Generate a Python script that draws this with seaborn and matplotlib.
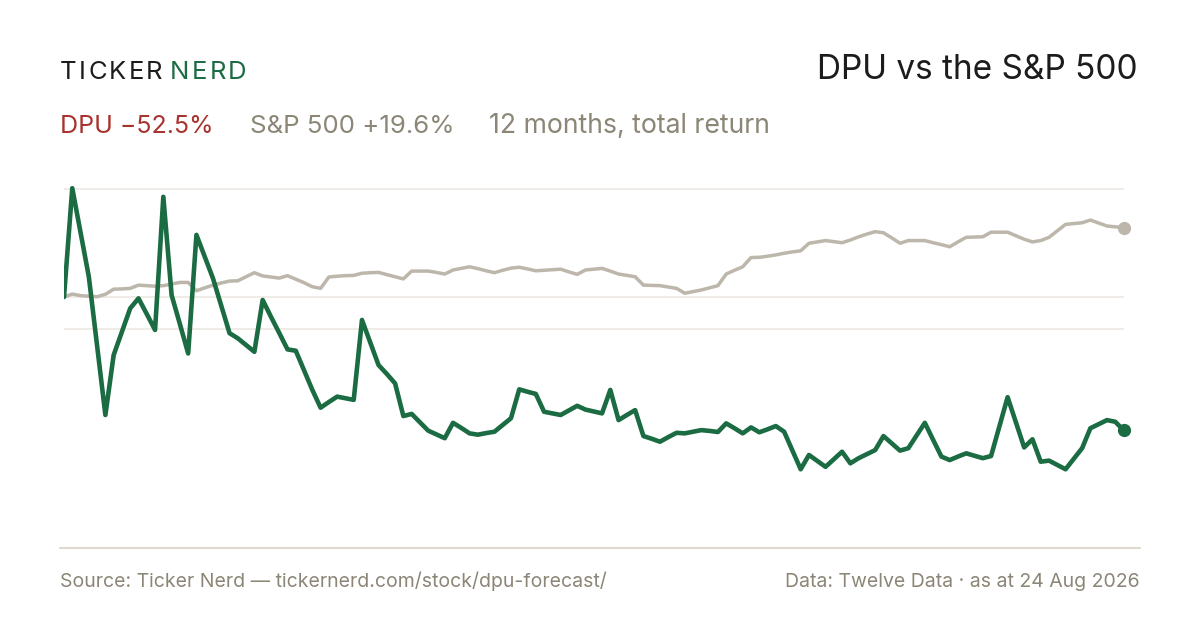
import numpy as np
import pandas as pd
import matplotlib
matplotlib.use("Agg")
import matplotlib.pyplot as plt
from matplotlib.lines import Line2D
import seaborn as sns

# 12 months total return, % (one point every ~3 days)
dpu_return = [
    0.0, 40.3, 23.9, 7.5, -18.1, -43.7, -21.5, -12.8, -4.2, -0.5,
    -6.3, -12.2, 37.1, 0.7, -10.0, -20.9, 23.0, 15.0, 6.9, -3.3,
    -13.4, -15.3, -17.8, -20.3, -1.1, -7.3, -13.3, -19.4, -19.9, -27.1,
    -34.4, -41.0, -38.9, -36.9, -37.5, -38.1, -8.5, -16.9, -25.2, -28.5,
    -32.0, -44.1, -43.3, -46.4, -49.5, -50.9, -52.3, -46.6, -48.5, -50.5,
    -51.0, -50.4, -49.9, -47.4, -44.9, -34.2, -35.1, -35.9, -42.5, -43.1,
    -43.7, -42.0, -40.3, -41.7, -42.4, -43.1, -34.4, -45.6, -43.7, -41.9,
    -51.5, -52.5, -53.6, -51.9, -50.3, -50.5, -49.9, -49.3, -49.6, -50.0,
    -46.8, -48.6, -50.5, -48.3, -50.1, -49.0, -47.8, -49.9, -56.9, -63.8,
    -58.5, -60.7, -62.9, -60.1, -57.3, -61.6, -59.7, -58.2, -56.7, -51.5,
    -54.2, -56.9, -56.0, -51.3, -46.6, -52.9, -59.1, -60.4, -59.1, -57.9,
    -58.8, -59.7, -58.9, -48.0, -37.1, -46.4, -55.7, -52.7, -61.0, -60.6,
    -62.2, -63.8, -59.9, -56.0, -48.6, -47.1, -45.6, -46.2, -49.3,
]
spx_return = [
    0.0, 1.1, 0.5, 0.3, 0.1, 1.0, 2.9, 3.0, 3.2, 4.4,
    4.2, 4.0, 4.2, 4.8, 5.4, 5.4, 2.3, 3.4, 4.4, 5.2,
    5.9, 6.0, 7.5, 9.0, 7.8, 7.4, 7.0, 7.9, 6.6, 5.3,
    3.8, 3.2, 7.4, 7.7, 7.9, 8.0, 8.8, 9.0, 9.1, 8.3,
    7.5, 6.7, 9.6, 9.6, 9.6, 9.1, 8.5, 10.0, 10.6, 11.2,
    10.5, 9.7, 9.0, 9.9, 10.7, 11.0, 10.4, 9.7, 9.9, 10.1,
    10.3, 9.3, 8.4, 10.0, 10.3, 10.6, 9.6, 8.5, 8.0, 7.5,
    4.4, 4.3, 4.2, 3.7, 3.2, 1.4, 2.0, 2.6, 3.4, 4.2,
    8.5, 9.9, 11.2, 14.6, 14.7, 15.1, 15.6, 16.2, 16.7, 17.1,
    19.9, 20.4, 20.9, 20.5, 20.1, 21.1, 22.3, 23.3, 24.2, 23.8,
    21.9, 19.9, 20.9, 20.9, 20.9, 20.1, 19.4, 18.6, 20.4, 22.1,
    22.2, 22.3, 24.0, 24.0, 24.0, 22.7, 21.4, 20.4, 20.9, 22.1,
    24.5, 26.9, 27.2, 27.5, 28.5, 27.4, 26.3, 26.0, 25.7,
]
grid_levels = [40, 0, -12]

logo_left, logo_right = "TICKER", "NERD"
title = "DPU vs the S&P 500"
sub_dpu = "DPU \u221252.5%"
sub_spx = "S&P 500 +19.6%"
sub_note = "12 months, total return"
source_text = "Source: Ticker Nerd \u2014 tickernerd.com/stock/dpu-forecast/"
data_text = "Data: Twelve Data \u00b7 as at 24 Aug 2026"

GREEN = "#1b6b43"
SPX_GREY = "#bdb6ab"
RED = "#a8322d"
MUTED = "#8c8677"
INK = "#1c1c1c"
GRID = "#ece9e4"
RULE = "#dedad0"

sns.set_theme(style="white")
plt.rcParams["font.family"] = ["Inter", "DejaVu Sans"]

W, H = 1200, 630
fig = plt.figure(figsize=(12, 6.3), dpi=100)
fig.patch.set_facecolor("white")

def fx(px):
    return px / W

def fy(py):
    return 1 - py / H

# axes placed so that the zero line sits at y=297 px
ax_top, ax_bot = 180, 500
ax = fig.add_axes([fx(64), fy(ax_bot), fx(1123.5) - fx(64), (ax_bot - ax_top) / H])
ax.set_facecolor("none")

df = pd.DataFrame({
    "day": np.arange(len(dpu_return)),
    "DPU": dpu_return,
    "S&P 500": spx_return,
})
long = df.melt(id_vars="day", var_name="series", value_name="ret")

for lvl in grid_levels:
    ax.axhline(lvl, color=GRID, lw=1.2, zorder=0)

sns.lineplot(data=long[long.series == "S&P 500"], x="day", y="ret", ax=ax,
             color=SPX_GREY, lw=2.5, legend=False, zorder=2)
sns.lineplot(data=long[long.series == "DPU"], x="day", y="ret", ax=ax,
             color=GREEN, lw=3.3, legend=False, zorder=3)
ax.plot(df["day"].iloc[-1], df["S&P 500"].iloc[-1], "o", color=SPX_GREY, ms=8.5,
        clip_on=False, zorder=4)
ax.plot(df["day"].iloc[-1], df["DPU"].iloc[-1], "o", color=GREEN, ms=8.5,
        clip_on=False, zorder=4)

scale = 2.7  # px per % point
ax.set_xlim(0, len(dpu_return) - 1)
ax.set_ylim((297 - ax_bot) / scale, (297 - ax_top) / scale)
ax.set_axis_off()

# header
renderer = fig.canvas.get_renderer()

def tracked(x_px, y_px, s, color, size, track):
    x = x_px
    for ch in s:
        t = fig.text(fx(x), fy(y_px), ch, color=color, fontsize=size, va="baseline", ha="left")
        bb = t.get_window_extent(renderer=renderer)
        x += bb.width + track
    return x

end = tracked(60, 79, logo_left, INK, 18.5, 2.3)
tracked(end + 5, 79, logo_right, GREEN, 18.5, 2.3)

fig.text(fx(1138), fy(79), title, color=INK, fontsize=24, ha="right", va="baseline")

fig.text(fx(60), fy(133), sub_dpu, color=RED, fontsize=18, ha="left", va="baseline")
fig.text(fx(250), fy(133), sub_spx, color=MUTED, fontsize=18.6, ha="left", va="baseline")
fig.text(fx(489), fy(133), sub_note, color=MUTED, fontsize=19.2, ha="left", va="baseline")

# footer
fig.add_artist(Line2D([fx(60), fx(1140)], [fy(548), fy(548)], color=RULE, lw=1.5))
fig.text(fx(60), fy(587), source_text, color=MUTED, fontsize=14, ha="left", va="baseline")
fig.text(fx(1140), fy(587), data_text, color=MUTED, fontsize=14, ha="right", va="baseline")

fig.savefig("out.png", dpi=100, facecolor="white")
